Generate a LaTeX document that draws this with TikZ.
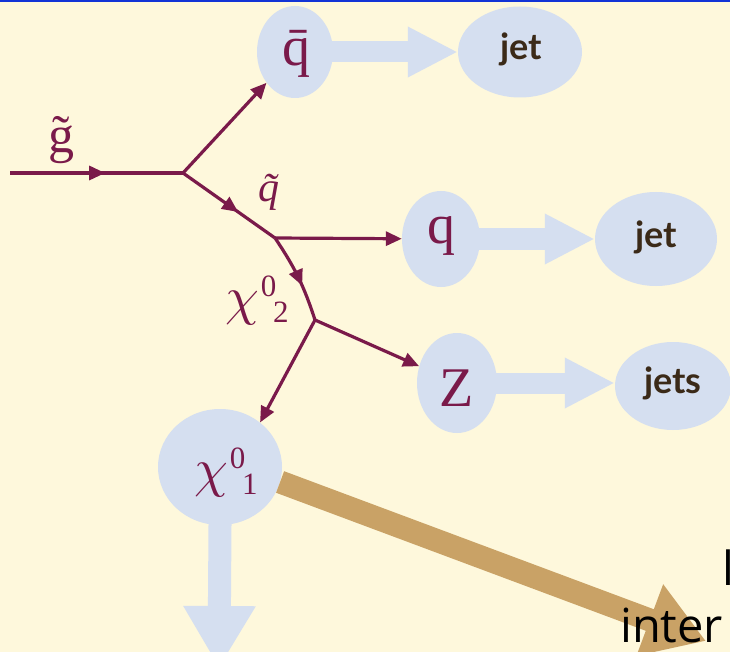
\documentclass[tikz,border=0pt]{standalone}
\usepackage{fontspec}
\usepackage{graphicx}
\setmainfont{Liberation Serif}
\newfontfamily\jetfont{Lato}
\newfontfamily\slidefont{Open Sans}
\usetikzlibrary{arrows.meta,shapes.geometric,decorations.markings}
\definecolor{cream}{HTML}{FEF8DC}
\definecolor{maroon}{HTML}{7A1A4A}
\definecolor{blob}{HTML}{D5DFF0}
\definecolor{tan}{HTML}{C9A266}
\definecolor{topblue}{HTML}{1234D6}
\definecolor{jetbrown}{HTML}{3B2A18}
\newcommand{\bigchi}{{\fontsize{10}{10}\selectfont\scalebox{5.4}{$\chi$}}}
\newcommand{\chilab}[1]{\bigchi\hspace{0.03em}\raisebox{0.32em}{\fontsize{31}{31}\selectfont 0}\hspace{-0.06em}\raisebox{-0.16em}{\fontsize{31}{31}\selectfont #1}}
\tikzset{
  blobnode/.style={ellipse, fill=blob, inner sep=0pt},
  plabel/.style={text=maroon, font=\fontsize{56}{56}\selectfont},
  jetlabel/.style={text=jetbrown, font=\jetfont\bfseries\fontsize{36}{36}\selectfont},
  fline/.style={draw=maroon, line width=3.2pt},
  ftip/.style={-{Triangle[length=16pt,width=14pt]}},
  midarrow/.style={postaction={decorate}, decoration={markings,
      mark=at position #1 with {\arrow{Triangle[length=16pt,width=14pt]}}}},
  bluearrow/.style={draw=blob, line width=21pt,
      -{Triangle[length=50pt,width=47pt]}},
}
\begin{document}
\begin{tikzpicture}[x=1pt,y=-1pt]
\useasboundingbox (0,0) rectangle (730,652);
\clip (0,0) rectangle (730,652);
\fill[cream] (0,0) rectangle (730,652);
\fill[topblue] (0,0) rectangle (730,2.5);

% blobs
\node[blobnode, minimum width=76pt, minimum height=92pt] (qbar) at (295,52) {};
\node[blobnode, minimum width=124pt, minimum height=91pt] (jet1) at (520,52) {};
\node[blobnode, minimum width=78pt, minimum height=96pt] (q) at (441,239) {};
\node[blobnode, minimum width=122pt, minimum height=94pt] (jet2) at (656,239) {};
\node[blobnode, minimum width=80pt, minimum height=100pt] (Z) at (457,383) {};
\node[blobnode, minimum width=116pt, minimum height=88pt] (jet3) at (673,386) {};
\node[blobnode, minimum width=124pt, minimum height=116pt] (chi1) at (220,467) {};

% blue arrows
\draw[bluearrow, shorten <=-6pt] (qbar.east) -- (qbar.east -| jet1.west);
\draw[bluearrow, shorten <=-6pt] (q.east) -- (q.east -| jet2.west);
\draw[bluearrow, shorten <=-6pt] (Z.east) -- (Z.east -| jet3.west);
\coordinate (down) at (219,668);
\draw[bluearrow, -{Triangle[length=62pt,width=68pt]}, line width=23pt, shorten <=-6pt] (chi1.south) -- (down);

% tan arrow
\coordinate (tanend) at (706,641);
\draw[draw=tan, line width=23pt, -{Triangle[length=60pt,width=72pt]}] (chi1.-14) -- (tanend);

% labels
\node[plabel] at (296,54) {\=q};
\node[plabel] at (441,236) {q};
\node[plabel] at (457,388) {Z};
\node[jetlabel] at (521,49) {jet};
\node[jetlabel] at (656,237) {jet};
\node[jetlabel] at (673,383) {jets};
\node[plabel] at (226,472) {\chilab{1}};

% vertices
\coordinate (start) at (10,173);
\coordinate (v1) at (183,173);
\coordinate (v2) at (275,238);
\coordinate (v3) at (315,320);

\draw[fline, midarrow=0.55] (start) -- (v1);
\draw[fline, ftip] (v1) -- (qbar);
\draw[fline, midarrow=0.6] (v1) -- (v2);
\draw[fline, ftip] (v2) -- (q);
\draw[fline, midarrow=0.6] (v2) to[bend left=8] (v3);
\draw[fline, ftip] (v3) -- (Z);
\draw[fline, ftip] (v3) -- (chi1.48);

\node[plabel, font=\fontsize{52}{52}\selectfont] (glab) at (61,140) {\~g};
\node[plabel, font=\itshape\fontsize{42}{42}\selectfont] (qtlab) at (269,192) {\~q};
\node[plabel] (chi2lab) at (257,300) {\chilab{2}};

% cropped slide text
\node[anchor=base west, inner sep=0pt, font=\slidefont\fontsize{47}{47}\selectfont] (inter) at (620,642) {inter};
\node[anchor=base west, inner sep=0pt, font=\slidefont\fontsize{47}{47}\selectfont] (lword) at (722,585) {l};
\end{tikzpicture}
\end{document}
